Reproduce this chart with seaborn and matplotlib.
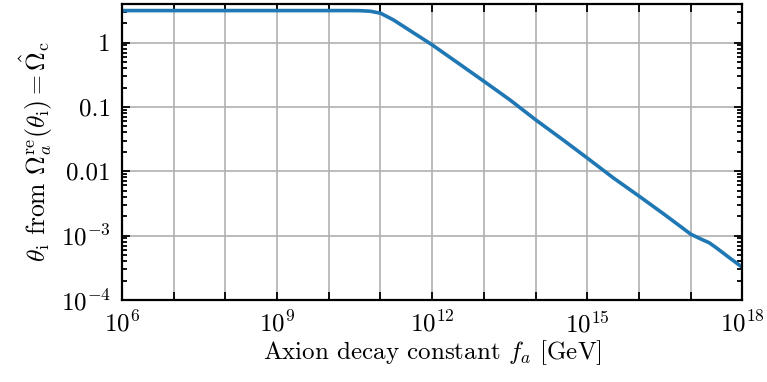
import numpy as np
import pandas as pd
import matplotlib
matplotlib.use('Agg')
import matplotlib.pyplot as plt
import matplotlib.ticker as mticker
import seaborn as sns

# values (log10 f_a, theta_i)
log_fa = [6.0, 7.0, 8.0, 9.0, 10.0, 10.4, 10.6, 10.8, 11.0, 11.25, 11.5, 11.75,
          12.0, 12.5, 13.0, 13.5, 14.0, 14.5, 15.0, 15.5, 16.0, 16.5, 17.0,
          17.2, 17.36, 17.5, 17.75, 18.0]
theta_i = [3.14, 3.14, 3.14, 3.14, 3.14, 3.14, 3.13, 3.07, 2.86, 2.25, 1.67, 1.24,
           0.92, 0.48, 0.25, 0.129, 0.063, 0.032, 0.016, 0.0079, 0.0041, 0.0021,
           0.00105, 0.00088, 0.00077, 0.00064, 0.00045, 0.00032]

x_ticks = [10.0**k for k in range(6, 19)]
x_labels = {6: r'$10^{6}$', 9: r'$10^{9}$', 12: r'$10^{12}$', 15: r'$10^{15}$', 18: r'$10^{18}$'}
y_ticks = [1e-4, 1e-3, 1e-2, 1e-1, 1.0]
y_labels = [r'$10^{-4}$', r'$10^{-3}$', '0.01', '0.1', '1']

df = pd.DataFrame({'fa': 10.0**np.array(log_fa), 'theta': theta_i})

sns.set_style('ticks')
plt.rcParams['font.family'] = 'serif'
plt.rcParams['font.serif'] = ['cmr10', 'DejaVu Serif']
plt.rcParams['mathtext.fontset'] = 'cm'
plt.rcParams['axes.formatter.use_mathtext'] = True
for k in ['text.color', 'axes.labelcolor', 'xtick.color', 'ytick.color', 'axes.edgecolor']:
    plt.rcParams[k] = 'black'

fig, ax = plt.subplots(figsize=(7.67, 3.82), dpi=100)
sns.lineplot(data=df, x='fa', y='theta', ax=ax, color='#1f77b4', lw=2.6)

ax.set_xscale('log')
ax.set_yscale('log')
ax.set_xlim(1e6, 1e18)
ax.set_ylim(1e-4, 4.0)

ax.xaxis.set_major_locator(mticker.FixedLocator(x_ticks))
ax.xaxis.set_minor_locator(mticker.NullLocator())
ax.xaxis.set_major_formatter(mticker.FuncFormatter(
    lambda v, p: x_labels.get(int(round(np.log10(v))), '')))
ax.yaxis.set_major_locator(mticker.FixedLocator(y_ticks))
ax.yaxis.set_major_formatter(mticker.FixedFormatter(y_labels))
ax.yaxis.set_minor_locator(mticker.LogLocator(base=10, subs=np.arange(2, 10), numticks=20))
ax.yaxis.set_minor_formatter(mticker.NullFormatter())

ax.grid(True, which='major', color='#b0b0b0', lw=1.2)
ax.tick_params(which='both', direction='in', top=True, right=True, labelsize=18, width=1.3)
ax.tick_params(which='major', length=6, pad=8)
ax.tick_params(which='minor', length=3.5)
for s in ax.spines.values():
    s.set_linewidth(1.6)

ax.set_xlabel(r'Axion decay constant $f_a$ [GeV]', fontsize=18, labelpad=1)
ax.set_ylabel(r'$\theta_{\rm i}$ from $\Omega_a^{\rm re}(\theta_{\rm i}) = \hat{\Omega}_{\rm c}$',
              fontsize=18.5, labelpad=4)

fig.subplots_adjust(left=0.159, right=0.968, top=0.99, bottom=0.215)
fig.savefig('out.png', dpi=100)
